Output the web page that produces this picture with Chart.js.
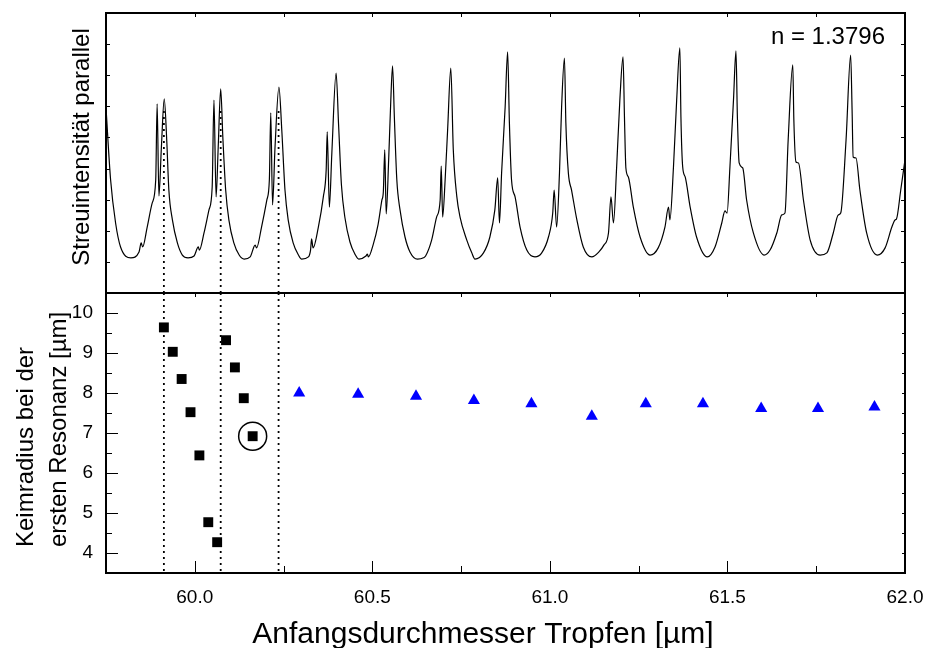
<!DOCTYPE html>
<html>
<head>
<meta charset="utf-8">
<script src="https://cdn.jsdelivr.net/npm/chart.js@4.4.0/dist/chart.umd.min.js"></script>
<style>
  html, body { margin: 0; padding: 0; background: #fff; }
  #wrap { position: relative; width: 925px; height: 648px; }
  canvas { position: absolute; left: 0; top: 0; }
</style>
</head>
<body>
<div id="wrap">
  <canvas id="bottomChart" width="925" height="648"></canvas>
  <canvas id="topChart" width="925" height="648"></canvas>
</div>
<script>
// Streuintensitaet (top panel), one line per resonance period
const specX = [
  59.750, 59.763, 59.777, 59.791, 59.820, 59.843, 59.849, 59.853, 59.866, 59.880, 59.890, 59.894, 59.899, 59.906, 59.914,
  59.921, 59.927, 59.937, 59.951, 59.965, 59.981,
  59.998, 60.010, 60.013, 60.026, 60.040, 60.049, 60.054, 60.060, 60.066, 60.073,
  60.079, 60.087, 60.096, 60.110, 60.125, 60.139,
  60.156, 60.170, 60.174, 60.188, 60.203, 60.210, 60.214, 60.219, 60.226, 60.237,
  60.245, 60.254, 60.263, 60.277, 60.292, 60.301,
  60.320, 60.326, 60.329, 60.333, 60.348, 60.362, 60.370, 60.373, 60.379, 60.386, 60.398,
  60.405, 60.413, 60.423, 60.437, 60.451, 60.462,
  60.482, 60.486, 60.489, 60.502, 60.516, 60.527, 60.531, 60.535, 60.539, 60.546, 60.551, 60.557,
  60.562, 60.569, 60.578, 60.592, 60.606, 60.627,
  60.644, 60.650, 60.667, 60.681, 60.691, 60.694, 60.698, 60.705, 60.712, 60.721,
  60.728, 60.738, 60.747, 60.766, 60.780, 60.789,
  60.813, 60.831, 60.845, 60.853, 60.858, 60.864, 60.874, 60.881,
  60.886, 60.892, 60.902, 60.916, 60.935, 60.958,
  60.977, 60.996, 61.008, 61.012, 61.019, 61.027, 61.033, 61.041,
  61.045, 61.052, 61.061, 61.076, 61.094, 61.118,
  61.138, 61.152, 61.165, 61.172, 61.179, 61.188, 61.197, 61.206,
  61.210, 61.214, 61.221, 61.235, 61.254, 61.282,
  61.305, 61.324, 61.334, 61.338, 61.348, 61.357, 61.366,
  61.369, 61.374, 61.381, 61.395, 61.413, 61.443,
  61.465, 61.484, 61.493, 61.499, 61.507, 61.517, 61.524,
  61.528, 61.533, 61.543, 61.554, 61.573, 61.603,
  61.620, 61.639, 61.653, 61.662, 61.671, 61.684,
  61.687, 61.693, 61.700, 61.714, 61.733, 61.761,
  61.780, 61.798, 61.812, 61.819, 61.834, 61.847,
  61.851, 61.854, 61.862, 61.873, 61.892, 61.922,
  61.944, 61.963, 61.972, 61.976, 61.988, 62.000
];
const specY = [
  5.95, 3.63, 2.25, 1.48, 1.13, 1.32, 1.61, 1.48, 2.12, 2.89, 3.63, 6.08, 3.12, 4.69, 6.24,
  4.92, 3.31, 2.35, 1.61, 1.22, 1.13,
  1.19, 1.48, 1.38, 1.93, 2.67, 3.41, 6.20, 3.09, 4.69, 6.56,
  5.01, 3.31, 2.35, 1.61, 1.22, 1.09,
  1.16, 1.54, 1.45, 2.12, 2.99, 3.63, 5.79, 2.83, 4.69, 6.62,
  5.24, 3.31, 2.35, 1.61, 1.22, 1.09,
  1.16, 1.38, 1.74, 1.45, 2.12, 3.09, 3.95, 5.18, 2.76, 4.50, 7.07,
  5.40, 3.47, 2.41, 1.64, 1.25, 1.09,
  1.19, 1.25, 1.16, 1.54, 2.19, 2.99, 3.25, 4.60, 2.54, 4.28, 5.88, 7.30,
  5.66, 3.63, 2.67, 1.80, 1.32, 1.09,
  1.13, 1.19, 1.70, 2.44, 2.99, 4.08, 2.44, 3.63, 5.24, 7.23,
  4.60, 3.09, 2.44, 1.70, 1.29, 1.09,
  1.29, 1.80, 2.67, 3.70, 2.25, 3.86, 5.98, 7.75,
  5.46, 3.63, 3.09, 2.12, 1.38, 1.16,
  1.29, 1.80, 2.57, 3.31, 2.12, 3.86, 5.98, 7.55,
  5.46, 3.86, 3.31, 2.35, 1.48, 1.16,
  1.32, 1.54, 1.93, 3.09, 2.25, 4.05, 6.20, 7.59,
  5.66, 4.02, 3.73, 2.76, 1.80, 1.22,
  1.45, 2.12, 2.76, 2.35, 4.05, 6.20, 7.88,
  5.66, 4.05, 3.73, 2.76, 1.80, 1.16,
  1.48, 2.25, 2.64, 2.57, 4.05, 6.20, 7.78,
  5.66, 4.18, 4.02, 2.99, 1.93, 1.22,
  1.38, 1.93, 2.51, 2.57, 4.92, 7.33,
  5.56, 4.21, 4.18, 2.99, 1.70, 1.22,
  1.29, 1.93, 2.51, 2.57, 4.92, 7.65,
  5.88, 4.37, 4.34, 3.31, 1.93, 1.22,
  1.45, 2.12, 2.35, 2.38, 3.31, 4.28
];

// Keimradius (bottom panel)
const squareX = [59.913, 59.938, 59.963, 59.988, 60.013, 60.038, 60.063, 60.088, 60.113, 60.138, 60.163];
const squareY = [9.64, 9.03, 8.35, 7.52, 6.44, 4.77, 4.27, 9.32, 8.64, 7.87, 6.92];
const triangleX = [60.294, 60.460, 60.623, 60.786, 60.948, 61.118, 61.270, 61.431, 61.595, 61.755, 61.914];
const triangleY = [8.00, 7.97, 7.92, 7.81, 7.73, 7.42, 7.73, 7.73, 7.61, 7.61, 7.65];
const circledX = [60.163];
const circledY = [6.92];

// dotted guide lines through the first resonances
const dottedX = [59.913, 60.073, 60.236];
const dottedTop = 5.85;

// axis ticks
const xMajorTicks = [60.0, 60.5, 61.0, 61.5, 62.0];
const xMinorTicks = [59.75, 60.25, 60.75, 61.25, 61.75];
const topYTicks = [1, 2, 3, 4, 5, 6, 7, 8];
const bottomYTicks = [4, 5, 6, 7, 8, 9, 10];
const bottomYMinor = [4.5, 5.5, 6.5, 7.5, 8.5, 9.5];

const FONT = '"Liberation Sans", Arial, Helvetica, sans-serif';
Chart.defaults.font.family = FONT;
Chart.defaults.color = '#000';

const toPoints = (xs, ys) => xs.map((v, i) => ({ x: v, y: ys[i] }));

// frame, inner ticks and free texts
const panelDecor = {
  id: 'panelDecor',
  afterDraw(chart, args, o) {
    const { ctx, chartArea: a } = chart;
    const sx = chart.scales.x, sy = chart.scales.y;
    ctx.save();
    ctx.strokeStyle = '#000';
    ctx.lineWidth = 1;
    ctx.beginPath();
    o.xTicks.forEach(([v, lb, lt]) => {
      const px = Math.round(sx.getPixelForValue(v)) + 0.5;
      if (lb) { ctx.moveTo(px, a.bottom); ctx.lineTo(px, a.bottom - lb); }
      if (lt) { ctx.moveTo(px, a.top); ctx.lineTo(px, a.top + lt); }
    });
    o.yTicks.forEach(([v, ll, lr]) => {
      const py = Math.round(sy.getPixelForValue(v)) + 0.5;
      if (ll) { ctx.moveTo(a.left, py); ctx.lineTo(a.left + ll, py); }
      if (lr) { ctx.moveTo(a.right, py); ctx.lineTo(a.right - lr, py); }
    });
    ctx.stroke();
    ctx.lineWidth = 2;
    ctx.strokeRect(a.left, a.top, a.right - a.left, a.bottom - a.top);
    ctx.fillStyle = '#000';
    o.texts.forEach(t => {
      ctx.save();
      ctx.font = t.font;
      ctx.textAlign = t.align;
      ctx.textBaseline = 'alphabetic';
      ctx.translate(t.x, t.y);
      if (t.rot) ctx.rotate(t.rot);
      ctx.fillText(t.text, 0, 0);
      ctx.restore();
    });
    ctx.restore();
  }
};

const allX = xMajorTicks.concat(xMinorTicks);

// top panel
new Chart(document.getElementById('topChart'), {
  type: 'scatter',
  data: {
    datasets: [{
      data: toPoints(specX, specY),
      showLine: true,
      borderColor: '#000',
      borderWidth: 1.2,
      pointRadius: 0,
      cubicInterpolationMode: 'monotone'
    }].concat(dottedX.map(v => ({
      data: [{ x: v, y: dottedTop }, { x: v, y: 0 }],
      showLine: true,
      borderColor: '#000',
      borderWidth: 1.8,
      borderDash: [2, 4],
      pointRadius: 0
    })))
  },
  options: {
    responsive: false,
    animation: false,
    layout: { padding: { left: 106, right: 20, top: 13, bottom: 355 } },
    scales: {
      x: { type: 'linear', display: false, min: 59.75, max: 62.0 },
      y: { type: 'linear', display: false, min: 0, max: 9 }
    },
    plugins: {
      legend: { display: false },
      tooltip: { enabled: false },
      panelDecor: {
        xTicks: allX.map(v => [v, 0, 4]),
        yTicks: topYTicks.map(v => [v, 4, 4]),
        texts: [
          { text: 'Streuintensität parallel', x: 89, y: 147, rot: -Math.PI / 2, align: 'center', font: '24px ' + FONT },
          { text: 'n = 1.3796', x: 885, y: 43.5, align: 'right', font: '24px ' + FONT }
        ]
      }
    }
  },
  plugins: [panelDecor]
});

// bottom panel
new Chart(document.getElementById('bottomChart'), {
  type: 'scatter',
  data: {
    datasets: [
      { data: toPoints(squareX, squareY), pointStyle: 'rect', pointRadius: 7, backgroundColor: '#000', borderColor: '#000', borderWidth: 0 },
      { data: toPoints(triangleX, triangleY), pointStyle: 'triangle', pointRadius: 7, backgroundColor: '#0000ff', borderColor: '#0000ff', borderWidth: 0 },
      { data: toPoints(circledX, circledY), pointStyle: 'circle', pointRadius: 14, backgroundColor: 'rgba(0,0,0,0)', borderColor: '#000', borderWidth: 1.5 }
    ].concat(dottedX.map(v => ({
      data: [{ x: v, y: 10.5 }, { x: v, y: 3.5 }],
      showLine: true,
      borderColor: '#000',
      borderWidth: 1.8,
      borderDash: [2, 4],
      pointRadius: 0
    })))
  },
  options: {
    responsive: false,
    animation: false,
    layout: { padding: { left: 0, right: 20, top: 293, bottom: 0 } },
    scales: {
      x: {
        type: 'linear', min: 59.75, max: 62.0,
        afterBuildTicks: s => { s.ticks = xMajorTicks.map(v => ({ value: v })); },
        afterFit: s => { s.height = 75; s.paddingLeft = 0; s.paddingRight = 0; },
        grid: { display: false, drawTicks: false },
        border: { display: false },
        ticks: { padding: 13, font: { size: 19 }, color: '#000', maxRotation: 0, autoSkip: false, callback: v => Number(v).toFixed(1) }
      },
      y: {
        type: 'linear', min: 3.5, max: 10.5,
        afterBuildTicks: s => { s.ticks = bottomYTicks.map(v => ({ value: v })); },
        afterFit: s => { s.width = 106; s.paddingTop = 0; s.paddingBottom = 0; },
        grid: { display: false, drawTicks: false },
        border: { display: false },
        ticks: { padding: 13, font: { size: 19 }, color: '#000' }
      }
    },
    plugins: {
      legend: { display: false },
      tooltip: { enabled: false },
      panelDecor: {
        xTicks: xMajorTicks.map(v => [v, 12, 4]).concat(xMinorTicks.map(v => [v, 7, 4])),
        yTicks: bottomYTicks.map(v => [v, 12, 3]).concat(bottomYMinor.map(v => [v, 6, 3])),
        texts: [
          { text: 'Anfangsdurchmesser Tropfen [µm]', x: 483, y: 643, align: 'center', font: '30px ' + FONT },
          { text: 'Keimradius bei der', x: 33, y: 547, rot: -Math.PI / 2, align: 'left', font: '24px ' + FONT },
          { text: 'ersten Resonanz [µm]', x: 66, y: 547, rot: -Math.PI / 2, align: 'left', font: '24px ' + FONT }
        ]
      }
    }
  },
  plugins: [panelDecor]
});
</script>
</body>
</html>
